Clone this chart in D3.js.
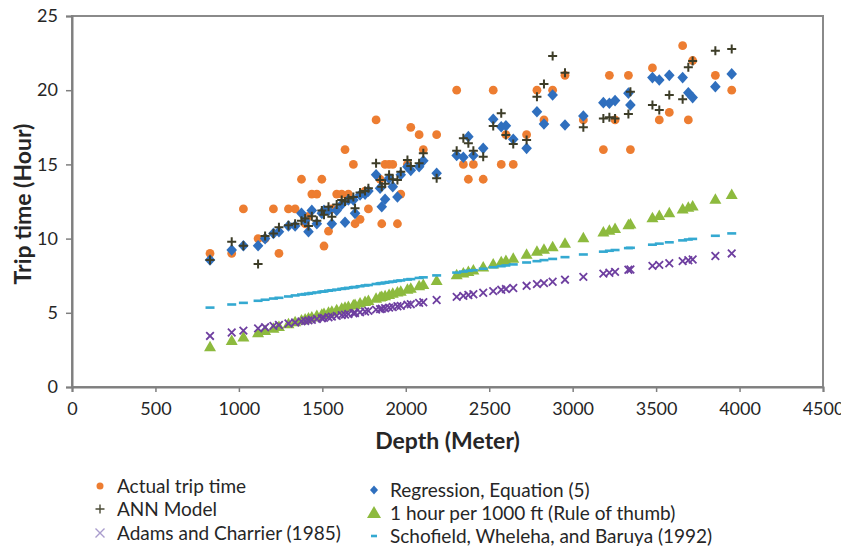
<!DOCTYPE html>
<html><head><meta charset="utf-8">
<script src="https://cdn.jsdelivr.net/npm/d3@7/dist/d3.min.js"></script>
<style>
body{margin:0;background:#fff;}
svg{display:block;}
text{font-family:Lato,"Open Sans",sans-serif;fill:#262626;}
</style></head><body>
<svg id="c" width="841" height="548"></svg>
<script>
// ---- data ----
const depth = [827,957,1027,1115,1157,1207,1240,1297,1337,1375,1397,1417,1437,1467,1497,1510,1537,1557,1586,1616,1636,1656,1686,1696,1726,1756,1776,1822,1846,1856,1876,1900,1922,1950,1970,2010,2030,2080,2105,2185,2305,2345,2375,2405,2464,2524,2572,2600,2644,2724,2786,2828,2880,2954,3064,3184,3220,3254,3334,3346,3478,3519,3579,3659,3693,3719,3855,3953];
const actual = [9.0,9.0,12.0,10.0,10.0,12.0,9.0,12.0,12.0,14.0,11.0,11.5,13.0,13.0,14.0,9.5,10.5,12.0,13.0,13.0,16.0,13.0,15.0,11.0,11.3,13.2,12.0,18.0,14.0,11.0,15.0,15.0,15.0,11.0,13.0,15.0,17.5,17.0,16.0,17.0,20.0,15.0,14.0,15.0,14.0,20.0,15.0,17.0,15.0,17.0,20.0,18.0,20.0,21.0,18.0,16.0,21.0,18.0,21.0,16.0,21.5,18.0,18.5,23.0,18.0,22.0,21.0,20.0];
const ann = [8.56,9.79,9.52,8.29,10.17,10.35,10.76,10.9,11.0,11.2,11.36,10.85,11.5,11.2,11.9,11.6,12.15,11.47,12.3,12.6,12.5,12.7,12.8,12.04,13.1,13.2,13.4,15.07,13.95,13.5,13.7,14.3,14.0,13.95,14.5,15.3,14.9,15.07,15.75,14.06,15.92,16.76,16.42,15.92,15.52,17.59,18.44,16.98,16.37,16.64,19.56,20.42,22.3,21.18,17.5,18.1,18.17,18.1,18.4,19.9,19.0,18.67,19.68,19.39,21.54,21.97,22.66,22.78];
const regression = [8.56,9.23,9.52,9.52,10.0,10.35,10.47,10.85,10.85,11.7,11.2,10.47,11.9,11.0,11.7,11.9,11.9,11.0,11.9,12.3,11.1,12.6,12.6,11.7,12.94,13.0,13.2,14.3,13.4,12.15,12.65,14.06,13.5,12.8,14.3,14.85,14.6,14.85,15.25,14.4,15.6,15.48,16.87,15.6,16.08,18.04,17.54,17.6,16.69,16.08,18.55,17.72,19.68,17.65,18.26,19.16,19.12,19.3,19.8,19.0,20.85,20.69,21.0,20.85,19.83,19.5,20.24,21.1];
const ruleOfThumb = [2.71,3.14,3.37,3.66,3.80,3.96,4.07,4.26,4.39,4.51,4.58,4.65,4.71,4.81,4.91,4.95,5.04,5.11,5.20,5.30,5.37,5.43,5.53,5.56,5.66,5.76,5.83,5.98,6.06,6.09,6.15,6.23,6.31,6.40,6.46,6.59,6.66,6.82,6.91,7.17,7.56,7.69,7.79,7.89,8.08,8.28,8.44,8.53,8.67,8.94,9.14,9.28,9.45,9.69,10.05,10.45,10.56,10.68,10.94,10.98,11.41,11.55,11.74,12.00,12.12,12.20,12.65,12.97];
const adams = [3.44,3.67,3.80,3.95,4.03,4.12,4.18,4.28,4.35,4.42,4.45,4.49,4.53,4.58,4.63,4.66,4.70,4.74,4.79,4.84,4.88,4.92,4.97,4.99,5.04,5.09,5.13,5.21,5.25,5.27,5.31,5.35,5.39,5.44,5.47,5.55,5.58,5.67,5.71,5.86,6.07,6.14,6.20,6.25,6.35,6.46,6.55,6.60,6.67,6.82,6.93,7.00,7.09,7.23,7.42,7.64,7.70,7.76,7.90,7.92,8.16,8.23,8.34,8.48,8.54,8.59,8.83,9.00];
const schofield = [5.35,5.56,5.67,5.81,5.88,5.96,6.01,6.10,6.17,6.23,6.26,6.29,6.33,6.37,6.42,6.44,6.49,6.52,6.56,6.61,6.64,6.68,6.72,6.74,6.79,6.84,6.87,6.94,6.98,7.00,7.03,7.07,7.10,7.15,7.18,7.24,7.27,7.35,7.39,7.52,7.71,7.78,7.83,7.87,7.97,8.07,8.14,8.19,8.26,8.39,8.48,8.55,8.63,8.75,8.93,9.12,9.18,9.23,9.36,9.38,9.59,9.66,9.75,9.88,9.94,9.98,10.19,10.35];
const xTicks = [0,500,1000,1500,2000,2500,3000,3500,4000,4500];
const yTicks = [0,5,10,15,20,25];
const xTitle = "Depth (Meter)";
const yTitle = "Trip time (Hour)";
const seriesNames = ["Actual trip time","ANN Model","Adams and Charrier (1985)","Regression, Equation (5)","1 hour per 1000 ft (Rule of thumb)","Schofield, Wheleha, and Baruya (1992)"];

// ---- layout ----
const svg = d3.select("#c");
const L=72,R=823,T=16,B=387;
const x = d3.scaleLinear().domain([0,4500]).range([L,R]);
const y = d3.scaleLinear().domain([0,25]).range([B,T]);

// plot frame
svg.append("rect").attr("x",L).attr("y",T).attr("width",R-L).attr("height",B-T)
  .attr("fill","none").attr("stroke","#8a8a8a").attr("stroke-width",2);

const gx = svg.append("g").attr("transform",`translate(0,${B})`)
  .call(d3.axisBottom(x).tickValues(xTicks).tickSize(5).tickPadding(10).tickFormat(d3.format("d")));
const gy = svg.append("g").attr("transform",`translate(${L},0)`)
  .call(d3.axisLeft(y).tickValues(yTicks).tickSize(6).tickPadding(8).tickFormat(d3.format("d")));
[gx,gy].forEach(g=>{
  g.select(".domain").attr("stroke","#7f7f7f").attr("stroke-width",2);
  g.selectAll(".tick line").attr("stroke","#7f7f7f").attr("stroke-width",1.5);
  g.selectAll(".tick text").style("font-family","Lato,sans-serif").style("font-size","18px").attr("fill","#262626");
});

svg.append("text").attr("x",(L+R)/2).attr("y",449).attr("text-anchor","middle")
  .style("font-size","23px").style("font-weight","bold").text(xTitle);
svg.append("text").attr("transform","translate(31,204) rotate(-90)").attr("text-anchor","middle")
  .style("font-size","23px").style("font-weight","bold").text(yTitle);

const pts = (vals)=>depth.map((d,i)=>[x(d),y(vals[i])]);
const C = {orange:"#ED7D31",blue:"#2F6FBE",ann:"#3D3D28",green:"#8DBA3E",purple:"#6E3FA0",cyan:"#34A9D1"};

const plot = svg.append("g");
// Actual (circles)
plot.append("g").selectAll("circle").data(pts(actual)).join("circle")
  .attr("cx",d=>d[0]).attr("cy",d=>d[1]).attr("r",4.4).attr("fill",C.orange);
// Regression (diamonds)
plot.append("g").selectAll("path").data(pts(regression)).join("path")
  .attr("transform",d=>`translate(${d[0]},${d[1]})`).attr("d","M0,-5.8L5.3,0L0,5.8L-5.3,0Z").attr("fill",C.blue);
// ANN (+)
plot.append("g").selectAll("path").data(pts(ann)).join("path")
  .attr("transform",d=>`translate(${d[0]},${d[1]})`).attr("d","M-4.5,0H4.5M0,-4.5V4.5")
  .attr("stroke",C.ann).attr("stroke-width",2).attr("fill","none");
// Rule of thumb (triangles)
plot.append("g").selectAll("path").data(pts(ruleOfThumb)).join("path")
  .attr("transform",d=>`translate(${d[0]},${d[1]})`).attr("d","M0,-6L6,4.5L-6,4.5Z").attr("fill",C.green);
// Adams (x)
plot.append("g").selectAll("path").data(pts(adams)).join("path")
  .attr("transform",d=>`translate(${d[0]},${d[1]})`).attr("d","M-3.8,-3.8L3.8,3.8M-3.8,3.8L3.8,-3.8")
  .attr("stroke",C.purple).attr("stroke-width",1.8).attr("fill","none");
// Schofield (dash)
plot.append("g").selectAll("path").data(pts(schofield)).join("path")
  .attr("transform",d=>`translate(${d[0]},${d[1]})`).attr("d","M-4.5,0H4.5")
  .attr("stroke",C.cyan).attr("stroke-width",2.6).attr("fill","none");

// ---- legend ----
const leg = svg.append("g").style("font-size","19px");
const legItems = [
  {n:0,x:100,y:486,m:g=>g.append("circle").attr("r",3.5).attr("fill",C.orange)},
  {n:1,x:100,y:509,m:g=>g.append("path").attr("d","M-4.5,0H4.5M0,-4.5V4.5").attr("stroke","#4a4a36").attr("stroke-width",1.4)},
  {n:2,x:100,y:533,m:g=>g.append("path").attr("d","M-4.5,-4.5L4.5,4.5M-4.5,4.5L4.5,-4.5").attr("stroke","#a99ccd").attr("stroke-width",1.4)},
  {n:3,x:374,y:490,m:g=>g.append("path").attr("d","M0,-4.5L4,0L0,4.5L-4,0Z").attr("fill",C.blue)},
  {n:4,x:374,y:513,m:g=>g.append("path").attr("d","M0,-7L7,5L-7,5Z").attr("fill",C.green)},
  {n:5,x:374,y:536,m:g=>g.append("path").attr("d","M-3,0H3").attr("stroke",C.cyan).attr("stroke-width",2.6)}
];
legItems.forEach(it=>{
  const g = leg.append("g").attr("transform",`translate(${it.x},${it.y})`);
  it.m(g);
  leg.append("text").attr("x",it.x+(it.n<3?17:16)).attr("y",it.y).attr("dy","0.35em").text(seriesNames[it.n]);
});
</script></body></html>
